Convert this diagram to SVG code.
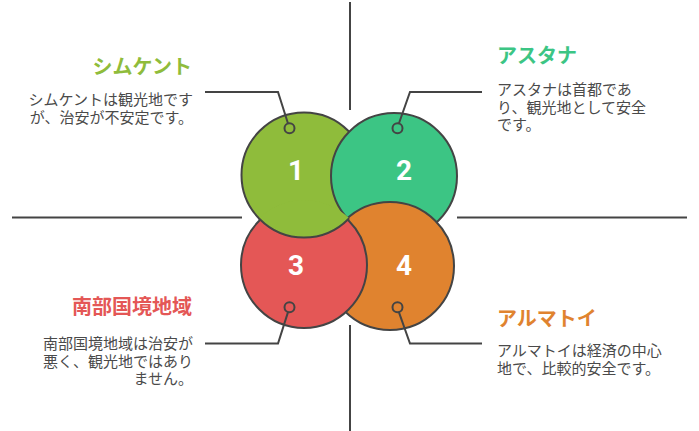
<svg xmlns="http://www.w3.org/2000/svg" xmlns:xlink="http://www.w3.org/1999/xlink" width="699" height="431" viewBox="0 0 699 431">
<style>
.c{stroke:#444;stroke-width:2}
.ln{fill:none;stroke:#444;stroke-width:2}
.num{font-family:Roboto,"Liberation Sans",sans-serif;font-weight:bold;font-size:28px;fill:#fff;text-anchor:middle}
.t{font-family:"Noto Sans CJK JP",sans-serif;font-weight:bold;font-size:20px}
.b{font-family:"Noto Sans CJK JP",sans-serif;font-size:15px;fill:#4a4a4a}
.r{text-anchor:end}
</style>
<defs>
<clipPath id="clip3"><circle cx="304" cy="265" r="65"/></clipPath>
</defs>
<g id="axes">
<path class="ln" d="M350,2 V110 M350,325 V431 M12,217.5 H242 M457,217.5 H687"/>
</g>
<g id="node-1">
<circle id="c1" class="c" cx="304" cy="175" r="62.5" fill="#8fbc3b"/>
</g>
<g id="node-2">
<circle class="c" cx="394" cy="176" r="63" fill="#3cc584"/>
</g>
<g id="node-4">
<circle class="c" cx="390" cy="266" r="64" fill="#e0832f"/>
</g>
<g id="node-3">
<circle class="c" cx="304" cy="265" r="63" fill="#e45756"/>
</g>
<use xlink:href="#c1" href="#c1" clip-path="url(#clip3)"/>
<g id="labels">
<text class="num" x="296" y="180">1</text>
<text class="num" x="404" y="180">2</text>
<text class="num" x="296" y="275">3</text>
<text class="num" x="404" y="275">4</text>
<text class="t r" x="192" y="74" fill="#8fbc3b">シムケント</text>
<text class="b r" x="193" y="105">シムケントは観光地です</text>
<text class="b r" x="193" y="122.5">が、治安が不安定です。</text>
<text class="t" x="497" y="62.5" fill="#3cc584">アスタナ</text>
<text class="b" x="497" y="95">アスタナは首都であ</text>
<text class="b" x="497" y="112.5">り、観光地として安全</text>
<text class="b" x="497" y="130">です。</text>
<text class="t r" x="192" y="313.5" fill="#e45756">南部国境地域</text>
<text class="b r" x="193" y="349">南部国境地域は治安が</text>
<text class="b r" x="193" y="366.5">悪く、観光地ではあり</text>
<text class="b r" x="193" y="384">ません。</text>
<text class="t" x="497" y="326" fill="#e0832f">アルマトイ</text>
<text class="b" x="497" y="356">アルマトイは経済の中心</text>
<text class="b" x="497" y="373.5">地で、比較的安全です。</text>
</g>
<g id="connectors">
<path class="ln" d="M205,92 H278 L288,123.5"/>
<circle class="ln" cx="289.5" cy="128.3" r="5"/>
<path class="ln" d="M482,92 H410 L398.9,123.5"/>
<circle class="ln" cx="397.5" cy="128.3" r="5"/>
<path class="ln" d="M205,343.5 H278 L288,312.1"/>
<circle class="ln" cx="289.5" cy="307.3" r="5"/>
<path class="ln" d="M482,343.5 H410 L398.9,312.1"/>
<circle class="ln" cx="397.5" cy="307.3" r="5"/>
</g>
</svg>
